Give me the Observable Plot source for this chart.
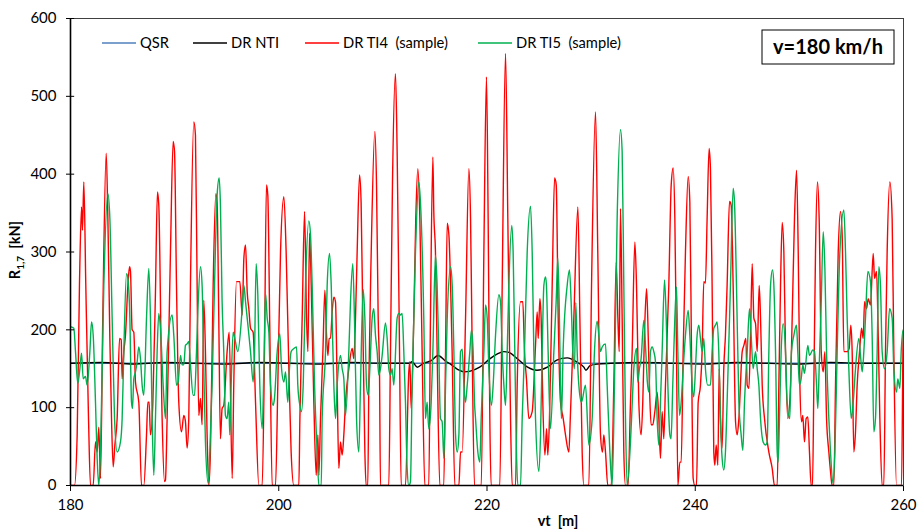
<!DOCTYPE html>
<html><head><meta charset="utf-8">
<script src="https://cdn.jsdelivr.net/npm/d3@7"></script>
<script src="https://cdn.jsdelivr.net/npm/@observablehq/plot@0.6"></script>
<style>body{margin:0;background:#fff} #chart{width:919px;height:529px}</style>
</head><body><div id="chart"></div>
<script>
const xTicks = [180, 200, 220, 240, 260];
const yTicks = [0, 100, 200, 300, 400, 500, 600];
const seriesNames = ["QSR", "DR NTI", "DR TI4\u00a0 (sample)", "DR TI5\u00a0 (sample)"];
const seriesColors = ["#4f81bd", "#000000", "#ff0000", "#00b050"];

const qsr = [[180, 157], [260, 157]];

const drNTI = [[180,157],[183,158],[186,156],[189,158],[192,157],[195,156],[198,158],[201,157],[204,156],[207,158],[210,157],[212.5,157],[212.8,159],[213.3,152],[213.9,157],[214.6,160],[215.3,167],[216.0,160],[216.5,156],[217.2,149],[217.8,146],[218.4,147],[219.3,152],[220.3,163],[221.0,169],[221.6,172],[222.1,171],[222.9,163],[223.9,152],[224.8,148],[225.8,152],[226.7,161],[227.7,164],[228.7,158],[229.3,152],[229.5,148],[229.9,154],[230.6,156],[231.9,157],[235,158],[238,157],[241,156],[244,158],[247,157],[250,156],[253,158],[256,157],[260,157]];

const drTI4 = [[180.00,0],[180.38,0],[180.64,65],[180.86,257],[181.06,358],[181.15,328],[181.28,390],[181.47,257],[181.73,86],[181.92,0],[182.18,0],[182.40,56],[182.56,43],[182.72,75],[182.88,9],[183.10,215],[183.43,427],[183.59,343],[183.78,189],[183.94,86],[184.10,24],[184.26,52],[184.48,86],[184.71,189],[184.87,187],[184.96,137],[185.12,172],[185.28,193],[185.51,257],[185.67,281],[185.76,275],[185.92,200],[186.08,197],[186.24,133],[186.56,107],[186.82,0],[187.04,0],[187.30,65],[187.43,107],[187.55,107],[187.68,65],[187.91,107],[188.16,249],[188.35,377],[188.48,360],[188.80,86],[189.03,5],[189.12,7],[189.28,86],[189.60,300],[189.86,442],[189.99,429],[190.18,257],[190.40,107],[190.66,69],[190.88,90],[191.04,82],[191.20,48],[191.36,86],[191.52,257],[191.84,467],[192.00,450],[192.16,257],[192.32,90],[192.48,112],[192.64,78],[192.80,238],[192.96,172],[193.12,65],[193.28,0],[193.44,43],[193.70,257],[193.96,375],[194.08,364],[194.24,215],[194.40,60],[194.56,99],[194.72,103],[195.04,172],[195.24,197],[195.53,9],[195.68,129],[195.94,262],[196.10,262],[196.26,262],[196.49,219],[196.65,292],[196.81,309],[196.97,249],[197.13,227],[197.29,202],[197.54,197],[197.77,107],[198.09,0],[198.41,0],[198.63,172],[198.82,386],[198.95,373],[199.14,202],[199.37,0],[199.69,0],[199.91,129],[200.17,300],[200.49,371],[200.71,300],[200.97,150],[201.19,43],[201.45,0],[201.93,0],[202.03,86],[202.25,215],[202.48,352],[202.67,215],[202.80,172],[202.96,324],[203.12,257],[203.37,107],[203.60,13],[203.76,65],[203.85,13],[204.01,86],[204.24,172],[204.43,251],[204.59,193],[204.72,167],[204.84,189],[204.97,189],[205.13,223],[205.29,242],[205.45,236],[205.61,129],[205.77,22],[205.93,56],[206.09,39],[206.25,65],[206.41,107],[206.73,150],[207.05,176],[207.21,163],[207.37,215],[207.53,300],[207.76,399],[207.91,364],[208.07,215],[208.27,43],[208.39,0],[208.55,0],[208.65,129],[208.88,300],[209.23,455],[209.39,386],[209.55,215],[209.68,142],[209.77,0],[210.57,0],[210.73,172],[210.92,386],[211.21,529],[211.37,429],[211.60,172],[211.76,0],[212.17,0],[212.49,146],[212.59,159],[212.72,99],[212.97,215],[213.16,343],[213.36,407],[213.55,343],[213.77,172],[214.03,0],[214.41,0],[214.57,215],[214.80,422],[214.89,352],[215.05,300],[215.21,172],[215.47,0],[215.85,0],[216.02,172],[216.18,337],[216.34,322],[216.65,172],[216.91,0],[217.30,0],[217.46,43],[217.62,43],[217.94,215],[218.26,407],[218.42,343],[218.58,172],[218.80,0],[219.45,0],[219.70,300],[219.95,525],[220.11,343],[220.27,86],[220.40,0],[221.23,0],[221.46,257],[221.78,555],[222.00,343],[222.26,86],[222.42,0],[222.74,0],[222.90,129],[223.22,236],[223.44,236],[223.60,172],[223.79,137],[224.02,86],[224.34,95],[224.66,180],[224.82,223],[224.92,189],[225.08,240],[225.20,215],[225.36,107],[225.56,39],[225.72,73],[225.84,39],[226.00,86],[226.26,257],[226.49,395],[226.65,386],[226.84,215],[227.06,107],[227.32,86],[227.54,65],[227.86,43],[228.00,86],[228.34,215],[228.73,358],[228.92,215],[229.14,43],[229.30,0],[229.78,0],[230.04,257],[230.42,480],[230.64,300],[230.90,65],[231.09,43],[231.22,65],[231.38,43],[231.60,0],[231.93,0],[232.18,129],[232.41,287],[232.57,215],[232.70,172],[232.82,356],[232.98,215],[233.14,43],[233.30,0],[233.55,0],[233.78,107],[233.94,172],[234.20,313],[234.36,257],[234.58,107],[234.80,65],[234.96,107],[235.12,193],[235.32,253],[235.44,215],[235.60,129],[235.76,78],[235.92,78],[236.12,95],[236.34,120],[236.50,86],[236.66,35],[236.82,95],[236.98,60],[237.14,129],[237.46,257],[237.69,386],[237.88,408],[238.04,343],[238.20,172],[238.33,0],[238.52,30],[238.65,30],[238.84,172],[239.06,300],[239.32,397],[239.48,364],[239.64,172],[239.80,9],[239.96,0],[240.12,0],[240.28,107],[240.50,129],[240.66,172],[240.82,262],[240.98,260],[241.14,343],[241.33,433],[241.46,407],[241.62,257],[241.78,43],[241.88,26],[242.01,52],[242.17,26],[242.30,150],[242.42,86],[242.58,48],[242.74,150],[242.90,193],[243.06,257],[243.29,365],[243.45,360],[243.64,257],[243.87,82],[244.03,65],[244.19,86],[244.51,172],[244.67,180],[244.86,189],[244.99,129],[245.15,125],[245.31,193],[245.47,285],[245.63,215],[245.79,208],[245.95,172],[246.14,257],[246.27,215],[246.43,129],[246.65,86],[247.07,43],[247.39,22],[247.61,0],[247.87,0],[248.03,129],[248.19,257],[248.35,338],[248.51,300],[248.67,172],[248.89,86],[249.15,129],[249.31,215],[249.53,343],[249.73,405],[249.89,300],[250.05,129],[250.21,82],[250.33,90],[250.49,56],[250.65,86],[250.81,88],[250.97,43],[251.13,0],[251.26,0],[251.39,129],[251.55,300],[251.74,390],[251.90,343],[252.10,172],[252.29,146],[252.45,172],[252.61,86],[252.83,43],[252.99,18],[253.15,0],[253.31,0],[253.47,129],[253.73,300],[253.95,352],[254.11,322],[254.27,172],[254.59,172],[254.78,176],[254.94,206],[255.07,172],[255.23,43],[255.39,69],[255.55,129],[255.78,172],[255.97,202],[256.13,189],[256.26,236],[256.45,227],[256.61,240],[256.83,232],[257.09,298],[257.22,266],[257.41,275],[257.54,215],[257.73,86],[257.95,0],[258.11,0],[258.27,172],[258.43,300],[258.69,390],[258.91,343],[259.07,172],[259.33,0],[259.81,0],[259.97,193],[260,200]];

const drTI5 = [[180.00,204],[180.32,202],[180.48,172],[180.70,131],[180.90,150],[181.06,170],[181.22,137],[181.44,140],[181.60,129],[181.86,172],[182.02,210],[182.18,193],[182.40,107],[182.56,35],[182.72,0],[182.88,43],[183.20,257],[183.59,375],[183.78,343],[184.00,215],[184.23,86],[184.48,43],[184.80,56],[184.96,86],[185.12,172],[185.38,272],[185.51,266],[185.70,215],[185.86,107],[185.95,99],[186.08,137],[186.24,146],[186.40,159],[186.56,178],[186.72,163],[186.88,129],[187.04,116],[187.30,215],[187.52,279],[187.68,215],[187.84,86],[188.00,13],[188.16,86],[188.32,172],[188.48,221],[188.64,202],[188.90,129],[189.12,86],[189.28,172],[189.76,219],[189.92,193],[190.18,129],[190.34,133],[190.56,167],[190.72,155],[190.88,155],[191.04,180],[191.20,182],[191.36,185],[191.52,155],[191.78,116],[191.91,116],[192.10,172],[192.23,223],[192.48,281],[192.64,257],[192.80,150],[192.96,56],[193.22,3],[193.38,43],[193.60,129],[193.83,257],[194.08,373],[194.28,395],[194.40,360],[194.56,236],[194.72,172],[194.88,90],[195.04,86],[195.20,107],[195.30,65],[195.43,129],[195.62,197],[195.78,189],[196.07,172],[196.49,227],[196.65,257],[196.81,236],[196.97,215],[197.29,172],[197.54,133],[197.67,167],[197.83,285],[197.99,245],[198.18,129],[198.41,73],[198.57,150],[198.73,247],[198.89,215],[199.05,197],[199.21,129],[199.46,103],[199.59,112],[199.85,172],[200.10,195],[200.27,150],[200.49,133],[200.65,146],[200.87,107],[201.03,150],[201.19,172],[201.45,176],[201.71,178],[201.83,129],[202.03,103],[202.19,95],[202.35,129],[202.57,257],[202.89,340],[203.05,322],[203.21,257],[203.44,129],[203.69,43],[203.85,0],[204.08,0],[204.17,86],[204.49,172],[204.65,257],[204.88,298],[205.04,257],[205.29,129],[205.45,86],[205.61,129],[205.93,167],[206.09,150],[206.25,137],[206.41,90],[206.73,172],[206.89,236],[207.11,285],[207.27,215],[207.47,86],[207.69,43],[207.85,129],[208.11,252],[208.27,215],[208.43,129],[208.59,116],[208.75,150],[208.97,215],[209.13,227],[209.29,193],[209.45,172],[209.61,142],[209.77,150],[209.93,167],[210.25,209],[210.41,189],[210.57,150],[210.73,142],[210.89,150],[211.05,129],[211.37,215],[211.53,221],[211.69,219],[211.85,221],[212.01,172],[212.17,107],[212.33,22],[212.49,0],[212.65,5],[212.81,129],[213.13,300],[213.45,390],[213.61,364],[213.93,215],[214.09,86],[214.25,107],[214.41,73],[214.64,107],[214.80,172],[215.05,296],[215.21,257],[215.37,172],[215.53,86],[215.69,82],[215.86,35],[216.02,129],[216.18,215],[216.50,281],[216.66,257],[216.82,172],[216.98,65],[217.14,43],[217.30,65],[217.46,172],[217.62,175],[217.78,129],[217.94,107],[218.10,129],[218.35,172],[218.51,200],[218.67,172],[218.80,107],[218.90,86],[219.12,43],[219.31,30],[219.44,86],[219.70,172],[219.86,232],[220.02,215],[220.18,150],[220.43,103],[220.59,129],[220.82,193],[221.14,245],[221.30,236],[221.46,172],[221.62,129],[221.78,103],[221.94,172],[222.10,257],[222.38,334],[222.51,300],[222.67,172],[222.83,43],[222.96,0],[223.22,0],[223.38,86],[223.60,172],[223.86,300],[224.18,359],[224.34,300],[224.50,172],[224.66,86],[224.98,18],[225.14,65],[225.30,172],[225.46,257],[225.62,268],[225.71,257],[225.87,172],[226.10,73],[226.42,172],[226.64,236],[226.80,292],[226.93,236],[227.06,129],[227.15,86],[227.31,172],[227.70,257],[227.92,277],[228.08,236],[228.24,172],[228.40,150],[228.53,235],[228.66,172],[228.82,129],[229.07,107],[229.46,129],[229.78,52],[230.10,86],[230.32,172],[230.58,211],[230.74,193],[230.90,172],[231.06,178],[231.38,182],[231.54,129],[231.80,43],[232.02,0],[232.24,129],[232.50,343],[232.82,457],[232.98,429],[233.14,257],[233.30,86],[233.46,0],[233.78,56],[233.94,103],[234.10,150],[234.36,176],[234.48,133],[234.64,150],[234.80,163],[235.06,212],[235.25,172],[235.40,133],[235.55,120],[235.70,172],[235.86,178],[236.02,172],[236.18,159],[236.34,86],[236.50,52],[236.66,107],[236.82,172],[237.05,264],[237.21,215],[237.37,129],[237.56,65],[237.68,60],[237.84,129],[238.04,215],[238.20,255],[238.33,172],[238.49,90],[238.65,107],[238.84,150],[239.06,193],[239.32,225],[239.48,193],[239.70,129],[239.86,114],[240.02,150],[240.18,193],[240.34,206],[240.50,189],[240.66,172],[240.82,189],[240.98,150],[241.20,129],[241.46,129],[241.62,172],[241.78,202],[241.94,206],[242.10,210],[242.26,172],[242.42,86],[242.58,35],[242.74,20],[242.90,43],[243.06,107],[243.38,257],[243.64,382],[243.77,364],[243.96,257],[244.19,107],[244.41,65],[244.57,45],[244.73,107],[244.99,172],[245.21,227],[245.37,193],[245.56,150],[245.79,172],[245.95,150],[246.11,129],[246.27,86],[246.52,56],[246.75,52],[246.91,56],[247.07,172],[247.23,257],[247.42,277],[247.55,257],[247.71,172],[247.87,43],[247.96,30],[248.09,86],[248.25,172],[248.44,208],[248.67,172],[248.83,107],[249.08,86],[249.24,172],[249.47,193],[249.72,206],[249.85,172],[250.01,129],[250.17,137],[250.33,155],[250.49,144],[250.81,180],[250.97,167],[251.29,174],[251.45,172],[251.65,129],[251.77,99],[251.90,150],[252.10,236],[252.29,326],[252.45,279],[252.61,172],[252.83,86],[252.99,43],[253.22,3],[253.41,43],[253.63,172],[253.89,300],[254.27,354],[254.43,300],[254.59,215],[254.75,150],[254.98,86],[255.17,107],[255.39,150],[255.71,189],[255.87,167],[256.03,146],[256.19,172],[256.35,215],[256.58,275],[256.83,262],[256.99,193],[257.15,69],[257.31,86],[257.47,172],[257.63,281],[257.79,257],[257.95,172],[258.18,150],[258.43,172],[258.66,227],[258.91,215],[259.07,150],[259.33,120],[259.45,137],[259.65,125],[259.78,172],[259.97,200],[260,200]];

const byX = (a) => a.slice().sort((p, q) => p[0] - q[0]);
const lineOpts = (color, w) => ({x: d => d[0], y: d => d[1], stroke: color, strokeWidth: w, curve: "monotone-x", clip: true});

const chart = Plot.plot({
  width: 919, height: 529,
  marginLeft: 70, marginRight: 16, marginTop: 18, marginBottom: 44,
  style: {fontFamily: "Lato, 'Open Sans', sans-serif", fontSize: "15px", background: "#fff", color: "#000", overflow: "visible"},
  x: {domain: [180, 260], ticks: xTicks, tickSize: 6, tickPadding: 8, label: null},
  y: {domain: [0, 600], ticks: yTicks, tickSize: 4, tickPadding: 10, label: null},
  marks: [
    Plot.frame({stroke: "#404040", strokeWidth: 1}),
    Plot.line(qsr, lineOpts(seriesColors[0], 1.6)),
    Plot.line(byX(drNTI), lineOpts(seriesColors[1], 1.4)),
    Plot.line(byX(drTI4), lineOpts(seriesColors[2], 1.4)),
    Plot.line(byX(drTI5), lineOpts(seriesColors[3], 1.4)),
    Plot.ruleY(yTicks, {x1: 180, x2: 180.4, stroke: "#000"}),
    Plot.ruleX([180], {stroke: "#000", strokeWidth: 1.6}),
    Plot.ruleY([0], {stroke: "#000", strokeWidth: 1.6})
  ]
});

const svg = d3.select(chart);
// legend
const legX = [102, 193, 305, 478];
const leg = svg.append("g").attr("font-size", 14.7).attr("font-family", "Lato, sans-serif").attr("text-anchor", "start");
seriesNames.forEach((name, i) => {
  leg.append("line").attr("x1", legX[i]).attr("x2", legX[i] + 34).attr("y1", 43).attr("y2", 43)
     .attr("stroke", seriesColors[i]).attr("stroke-width", 1.5);
  leg.append("text").attr("x", legX[i] + 38).attr("y", 43).attr("dy", "0.35em").attr("fill", "#000")
     .attr("text-anchor", "start").text(name);
});
// speed box
const box = svg.append("g");
box.append("rect").attr("x", 762).attr("y", 30).attr("width", 132).attr("height", 34)
   .attr("fill", "#fff").attr("stroke", "#000").attr("stroke-width", 1);
box.append("text").attr("x", 828).attr("y", 47).attr("dy", "0.36em").attr("text-anchor", "middle")
   .attr("font-size", 20).attr("font-weight", "bold").attr("font-family", "Lato, sans-serif").text("v=180 km/h");
// axis titles
const yl = svg.append("text").attr("transform", "translate(20,250) rotate(-90)").attr("text-anchor", "middle")
   .attr("font-size", 14.5).attr("font-weight", "bold").attr("font-family", "Lato, sans-serif");
yl.append("tspan").text("R");
yl.append("tspan").attr("font-size", 10).attr("dy", 4).text("1,7");
yl.append("tspan").attr("dy", -4).text("\u00a0 [kN]");
svg.append("text").attr("x", 558).attr("y", 521).attr("dy", "0.35em").attr("text-anchor", "middle")
   .attr("font-size", 14.5).attr("font-weight", "bold").attr("font-family", "Lato, sans-serif").text("vt\u00a0 [m]");

document.getElementById("chart").appendChild(chart);
</script>
</body></html>
